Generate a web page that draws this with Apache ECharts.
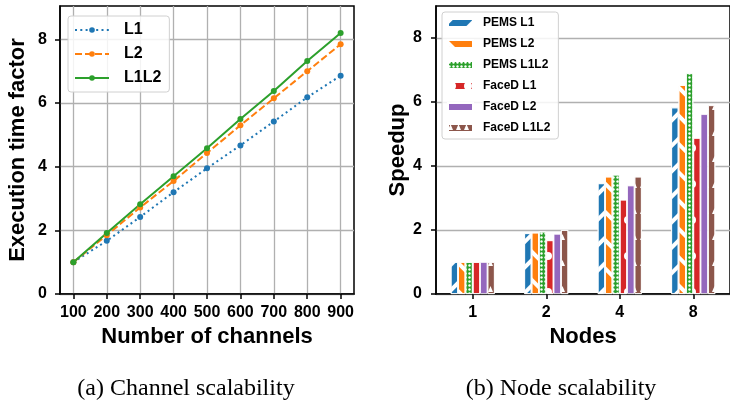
<!DOCTYPE html>
<html>
<head>
<meta charset="utf-8">
<script src="https://cdn.jsdelivr.net/npm/echarts@6/dist/echarts.min.js"></script>
<style>
    html, body { margin: 0; padding: 0; background: #fff; }
    #chart { width: 730px; height: 400px; }
</style>
</head>
<body>
<div id="chart"></div>
<script>
// (a) channel scalability
var channels = [100, 200, 300, 400, 500, 600, 700, 800, 900];
var timeL1 = [1, 1.67, 2.42, 3.2, 3.95, 4.67, 5.42, 6.18, 6.86];
var timeL2 = [1, 1.85, 2.72, 3.55, 4.43, 5.3, 6.15, 7.0, 7.85];
var timeL1L2 = [1, 1.92, 2.82, 3.7, 4.58, 5.5, 6.38, 7.32, 8.2];

// (b) node scalability
var nodes = ['1', '2', '4', '8'];
var pemsL1 = [1, 1.9, 3.46, 5.83];
var pemsL2 = [1, 1.92, 3.67, 6.53];
var pemsL1L2 = [1, 1.95, 3.73, 6.9];
var facedL1 = [1, 1.68, 2.95, 4.88];
var facedL2 = [1, 1.88, 3.39, 5.62];
var facedL1L2 = [1, 2.0, 3.67, 5.9];

var yTicks = [0, 2, 4, 6, 8];

window.addEventListener('load', function() {
    var myChart = echarts.init(document.getElementById('chart'));
    var font = 'Liberation Sans';

    function pairs(xs, ys) {
        return xs.map(function(x, i) { return [x, ys[i]]; });
    }

    function lineSeries(name, data, color, type) {
        return {
            name: name,
            type: 'line',
            xAxisIndex: 0,
            yAxisIndex: 0,
            data: pairs(channels, data),
            symbol: 'circle',
            symbolSize: 6,
            color: color,
            lineStyle: { width: 2, type: type, color: color },
            itemStyle: { color: color }
        };
    }

    function barSeries(name, data, color, decal) {
        var s = {
            name: name,
            type: 'bar',
            xAxisIndex: 1,
            yAxisIndex: 1,
            data: data,
            barWidth: '10%',
            barGap: '0%',
            color: color,
            itemStyle: { color: color, borderColor: '#fff', borderWidth: 0.8 }
        };
        if (decal) s.itemStyle.decal = decal;
        return s;
    }

    var white = '#ffffff';
    var axisText = { color: '#000', fontFamily: font, fontWeight: 'bold', fontSize: 16 };
    var nameText = { color: '#000', fontFamily: font, fontWeight: 'bold', fontSize: 22 };
    var captionText = { fontFamily: 'Liberation Serif', fontWeight: 'normal', fontSize: 24, color: '#000' };

    var option = {
        backgroundColor: '#fff',
        animation: false,
        title: [{
            text: '(a) Channel scalability',
            left: 181, top: 372, textAlign: 'center',
            textStyle: captionText
        }, {
            text: '(b) Node scalability',
            left: 556, top: 372, textAlign: 'center',
            textStyle: captionText
        }],
        legend: [{
            data: ['L1', 'L2', 'L1L2'],
            orient: 'vertical',
            left: 68, top: 16,
            padding: [6, 8, 6, 6],
            itemWidth: 34, itemHeight: 7, itemGap: 8,
            backgroundColor: 'rgba(255,255,255,0.85)',
            borderColor: '#d0d0d0', borderWidth: 1, borderRadius: 3,
            textStyle: { color: '#000', fontFamily: font, fontWeight: 'bold', fontSize: 16, padding: [0, 0, 0, 10] }
        }, {
            data: ['PEMS L1', 'PEMS L2', 'PEMS L1L2', 'FaceD L1', 'FaceD L2', 'FaceD L1L2'],
            orient: 'vertical',
            left: 442, top: 12,
            padding: [5, 8, 5, 5],
            itemWidth: 25, itemHeight: 8, itemGap: 9,
            icon: 'rect',
            backgroundColor: 'rgba(255,255,255,0.85)',
            borderColor: '#d0d0d0', borderWidth: 1, borderRadius: 3,
            textStyle: { color: '#000', fontFamily: font, fontWeight: 'bold', fontSize: 12, padding: [0, 0, 0, 5] }
        }],
        grid: [{
            left: 60, top: 6, width: 294, height: 288,
            show: true, borderColor: '#000', borderWidth: 1.5
        }, {
            left: 436, top: 6, width: 296, height: 288,
            show: true, borderColor: '#000', borderWidth: 1.5
        }],
        xAxis: [{
            gridIndex: 0,
            type: 'value',
            min: 60, max: 940,
            name: 'Number of channels',
            nameLocation: 'middle', nameGap: 29,
            nameTextStyle: nameText,
            axisLine: { show: true, lineStyle: { color: '#000', width: 1.5 } },
            axisTick: { show: true, customValues: channels, length: 5, lineStyle: { color: '#000', width: 1.5 } },
            axisLabel: Object.assign({ customValues: channels, margin: 11 }, axisText),
            splitLine: { show: true, lineStyle: { color: '#b0b0b0', width: 1.3 } }
        }, {
            gridIndex: 1,
            type: 'category',
            data: nodes,
            name: 'Nodes',
            nameLocation: 'middle', nameGap: 29,
            nameTextStyle: nameText,
            axisLine: { show: true, lineStyle: { color: '#000', width: 1.5 } },
            axisTick: { show: true, alignWithLabel: true, length: 5, lineStyle: { color: '#000', width: 1.5 } },
            axisLabel: Object.assign({ margin: 11 }, axisText),
            splitLine: { show: false }
        }],
        yAxis: [{
            gridIndex: 0,
            type: 'value',
            min: 0, max: 9.05,
            name: 'Execution time factor',
            nameLocation: 'middle', nameGap: 31,
            nameTextStyle: nameText,
            axisLine: { show: true, lineStyle: { color: '#000', width: 1.5 } },
            axisTick: { show: true, customValues: yTicks, length: 5, lineStyle: { color: '#000', width: 1.5 } },
            axisLabel: Object.assign({ customValues: yTicks, margin: 13 }, axisText),
            splitLine: { show: true, lineStyle: { color: '#b0b0b0', width: 1.3 } }
        }, {
            gridIndex: 1,
            type: 'value',
            min: 0, max: 9.0,
            name: 'Speedup',
            nameLocation: 'middle', nameGap: 27,
            nameTextStyle: nameText,
            axisLine: { show: true, lineStyle: { color: '#000', width: 1.5 } },
            axisTick: { show: true, customValues: yTicks, length: 5, lineStyle: { color: '#000', width: 1.5 } },
            axisLabel: Object.assign({ customValues: yTicks, margin: 14 }, axisText),
            splitLine: { show: true, lineStyle: { color: '#b0b0b0', width: 1.3 } }
        }],
        series: [
            lineSeries('L1', timeL1, '#1f77b4', [2, 3.3]),
            lineSeries('L2', timeL2, '#ff7f0e', [7, 3]),
            lineSeries('L1L2', timeL1L2, '#2ca02c', 'solid'),

            // hatched bars, white decals on the fill
            barSeries('PEMS L1', pemsL1, '#1f77b4', {
                symbol: 'rect', symbolSize: 1, color: white,
                dashArrayX: [1, 0], dashArrayY: [4, 14], rotation: -Math.PI / 4
            }),
            barSeries('PEMS L2', pemsL2, '#ff7f0e', {
                symbol: 'rect', symbolSize: 1, color: white,
                dashArrayX: [1, 0], dashArrayY: [4, 16], rotation: Math.PI / 4
            }),
            barSeries('PEMS L1L2', pemsL1L2, '#2ca02c', {
                symbol: 'circle', symbolSize: 0.8, color: white,
                dashArrayX: [3, 1], dashArrayY: [3, 1]
            }),
            barSeries('FaceD L1', facedL1, '#d62728', {
                symbol: 'circle', symbolSize: 1, color: white,
                dashArrayX: [8, 8], dashArrayY: [8, 28]
            }),
            barSeries('FaceD L2', facedL2, '#9467bd', null),
            barSeries('FaceD L1L2', facedL1L2, '#8c564b', {
                symbol: 'triangle', symbolSize: 1, color: white,
                dashArrayX: [5, 3], dashArrayY: [6, 20]
            })
        ]
    };
    myChart.setOption(option);
});
</script>
</body>
</html>
